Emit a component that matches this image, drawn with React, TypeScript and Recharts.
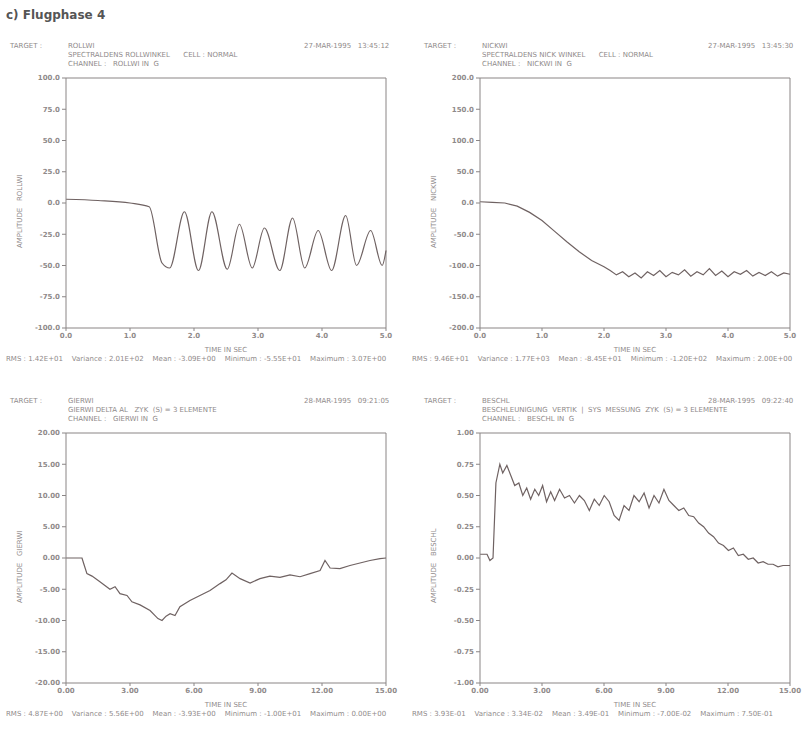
import React from 'react';
import { LineChart, Line, XAxis, YAxis, ReferenceLine } from 'recharts';

// ---------- data ----------
const p1Time = [0, 0.5, 1.0, 1.3, 1.5, 1.62, 1.85, 2.07, 2.28, 2.52, 2.71, 2.91, 3.1, 3.34, 3.54, 3.73, 3.94, 4.15, 4.37, 4.54, 4.76, 4.94, 5.0];
const p1Value = [3, 2, 0, -3, -48, -52, -7, -54, -7, -53, -17, -52, -20, -54, -12, -52, -22, -54, -10, -50, -22, -50, -38];

const p2Time = [0, 0.2, 0.4, 0.6, 0.8, 1.0, 1.2, 1.4, 1.6, 1.8, 2.0, 2.1, 2.2, 2.3, 2.4, 2.5, 2.6, 2.7, 2.8, 2.9, 3.0, 3.1, 3.2, 3.3, 3.4, 3.5, 3.6, 3.7, 3.8, 3.9, 4.0, 4.1, 4.2, 4.3, 4.4, 4.5, 4.6, 4.7, 4.8, 4.9, 5.0];
const p2Value = [2, 1, 0, -5, -15, -28, -45, -62, -78, -92, -102, -108, -115, -110, -118, -112, -120, -110, -116, -108, -118, -111, -115, -107, -117, -110, -115, -105, -116, -109, -118, -110, -114, -108, -117, -111, -116, -110, -117, -112, -114];

const p3Time = [0, 0.75, 0.84, 0.98, 1.22, 1.59, 2.06, 2.3, 2.53, 2.86, 3.09, 3.47, 3.94, 4.31, 4.5, 4.69, 4.88, 5.11, 5.34, 5.81, 6.28, 6.75, 7.22, 7.5, 7.78, 8.16, 8.63, 9.09, 9.56, 10.03, 10.5, 10.97, 11.44, 11.91, 12.14, 12.38, 12.84, 13.31, 13.78, 14.25, 14.72, 15];
const p3Value = [0, 0, -1, -2.5, -2.9, -3.8, -5.0, -4.6, -5.7, -6.0, -7.0, -7.5, -8.4, -9.7, -10.0, -9.3, -8.9, -9.2, -7.8, -6.8, -6.0, -5.2, -4.1, -3.5, -2.4, -3.3, -4.0, -3.3, -2.9, -3.1, -2.7, -3.0, -2.5, -2.0, -0.4, -1.6, -1.7, -1.2, -0.8, -0.4, -0.1, 0];

const p4Time = [0, 0.34, 0.48, 0.63, 0.77, 0.96, 1.1, 1.3, 1.49, 1.68, 1.88, 2.07, 2.26, 2.45, 2.65, 2.84, 3.03, 3.22, 3.42, 3.61, 3.85, 4.09, 4.33, 4.57, 4.81, 5.05, 5.29, 5.53, 5.77, 6.01, 6.25, 6.49, 6.73, 6.97, 7.21, 7.45, 7.7, 7.94, 8.18, 8.42, 8.66, 8.9, 9.14, 9.38, 9.62, 9.86, 10.1, 10.34, 10.58, 10.82, 11.06, 11.3, 11.54, 11.78, 12.02, 12.26, 12.5, 12.74, 12.98, 13.22, 13.46, 13.7, 13.94, 14.18, 14.42, 14.66, 15];
const p4Value = [0.03, 0.03, -0.02, 0.0, 0.6, 0.75, 0.68, 0.74, 0.66, 0.58, 0.6, 0.5, 0.56, 0.47, 0.55, 0.5, 0.58, 0.45, 0.53, 0.46, 0.55, 0.48, 0.5, 0.44, 0.5, 0.46, 0.38, 0.47, 0.42, 0.5, 0.45, 0.34, 0.3, 0.42, 0.38, 0.5, 0.45, 0.52, 0.4, 0.5, 0.44, 0.55, 0.46, 0.42, 0.38, 0.4, 0.34, 0.33, 0.28, 0.25, 0.2, 0.17, 0.12, 0.1, 0.06, 0.08, 0.02, 0.03, -0.01, 0.0, -0.04, -0.03, -0.05, -0.05, -0.07, -0.06, -0.06];

const xTicksA = [0, 1, 2, 3, 4, 5];
const xTicksB = [0, 3, 6, 9, 12, 15];
const yTicks1 = [-100, -75, -50, -25, 0, 25, 50, 75, 100];
const yTicks2 = [-200, -150, -100, -50, 0, 50, 100, 150, 200];
const yTicks3 = [-20, -15, -10, -5, 0, 5, 10, 15, 20];
const yTicks4 = [-1, -0.75, -0.5, -0.25, 0, 0.25, 0.5, 0.75, 1];

const footers = [
  'RMS : 1.42E+01    Variance : 2.01E+02    Mean : -3.09E+00    Minimum : -5.55E+01    Maximum : 3.07E+00',
  'RMS : 9.46E+01    Variance : 1.77E+03    Mean : -8.45E+01    Minimum : -1.20E+02    Maximum : 2.00E+00',
  'RMS : 4.87E+00    Variance : 5.56E+00    Mean : -3.93E+00    Minimum : -1.00E+01    Maximum : 0.00E+00',
  'RMS : 3.93E-01    Variance : 3.34E-02    Mean : 3.49E-01    Minimum : -7.00E-02    Maximum : 7.50E-01',
];

const headers = [
  { name: 'ROLLWI', desc: 'SPECTRALDENS ROLLWINKEL      CELL : NORMAL', chan: 'CHANNEL :   ROLLWI IN  G', date: '27-MAR-1995   13:45:12' },
  { name: 'NICKWI', desc: 'SPECTRALDENS NICK WINKEL      CELL : NORMAL', chan: 'CHANNEL :   NICKWI IN  G', date: '27-MAR-1995   13:45:30' },
  { name: 'GIERWI', desc: 'GIERWI DELTA AL   ZYK  (S) = 3 ELEMENTE', chan: 'CHANNEL :   GIERWI IN  G', date: '28-MAR-1995   09:21:05' },
  { name: 'BESCHL', desc: 'BESCHLEUNIGUNG  VERTIK  |  SYS  MESSUNG  ZYK  (S) = 3 ELEMENTE', chan: 'CHANNEL :   BESCHL IN  G', date: '28-MAR-1995   09:22:40' },
];

const LINE = '#6f6262';
const AXIS = '#8a8585';
const TEXT = '#8f8a8a';

function toRows(t: number[], v: number[]) {
  return t.map((x, i) => ({ t: x, v: v[i] }));
}

type PanelProps = {
  plotLeft: number; plotTop: number; plotW: number; plotH: number;
  time: number[]; value: number[]; xTicks: number[]; yTicks: number[];
  xDec: number; yDec: number; idx: number; curve: 'monotone' | 'linear'; footLeft: number;
};

function Panel(p: PanelProps) {
  const data = toRows(p.time, p.value);
  const ml = 5, yw = 50, mt = 5, mr = 16, xh = 20;
  const W = ml + yw + p.plotW + mr;
  const H = mt + p.plotH + xh;
  const xMin = p.xTicks[0], xMax = p.xTicks[p.xTicks.length - 1];
  const yMin = p.yTicks[0], yMax = p.yTicks[p.yTicks.length - 1];
  const h = headers[p.idx];
  const hx = p.plotLeft;
  const small: React.CSSProperties = { position: 'absolute', fontSize: 7, color: TEXT, whiteSpace: 'pre', fontFamily: 'DejaVu Sans, sans-serif', lineHeight: '8px' };
  return (
    <>
      <div style={{ ...small, left: p.plotLeft - 56, top: p.plotTop - 36 }}>TARGET :</div>
      <div style={{ ...small, left: hx + 2, top: p.plotTop - 36 }}>{h.name}</div>
      <div style={{ ...small, left: hx + 2, top: p.plotTop - 27 }}>{h.desc}</div>
      <div style={{ ...small, left: hx + 2, top: p.plotTop - 18 }}>{h.chan}</div>
      <div style={{ ...small, left: hx + p.plotW - 82, top: p.plotTop - 36 }}>{h.date}</div>
      <div style={{ ...small, left: p.plotLeft - 50, top: p.plotTop + p.plotH / 2 + 45, transform: 'rotate(-90deg)', transformOrigin: '0 0' }}>{'AMPLITUDE   ' + h.name}</div>
      <div style={{ ...small, left: p.plotLeft, width: p.plotW, textAlign: 'center', top: p.plotTop + p.plotH + 18 }}>TIME IN SEC</div>
      <div style={{ ...small, left: p.footLeft, top: p.plotTop + p.plotH + 27 }}>{footers[p.idx]}</div>
      <div style={{ position: 'absolute', left: p.plotLeft - ml - yw, top: p.plotTop - mt }}>
        <LineChart width={W} height={H} data={data} margin={{ top: mt, right: mr, bottom: 0, left: ml }}>
          <XAxis dataKey="t" type="number" domain={[xMin, xMax]} ticks={p.xTicks} height={xh}
            tickFormatter={(v: number) => v.toFixed(p.xDec)} stroke={AXIS} tickSize={3}
            tick={{ fontSize: 7, fill: TEXT, fontFamily: 'DejaVu Sans, sans-serif', fontWeight: 'bold' }} interval={0} />
          <YAxis type="number" domain={[yMin, yMax]} ticks={p.yTicks} width={yw}
            tickFormatter={(v: number) => v.toFixed(p.yDec)} stroke={AXIS} tickSize={4}
            tick={{ fontSize: 7, fill: TEXT, fontFamily: 'DejaVu Sans, sans-serif', fontWeight: 'bold' }} interval={0} />
          <ReferenceLine y={yMax} stroke={AXIS} />
          <ReferenceLine x={xMax} stroke={AXIS} />
          <Line dataKey="v" type={p.curve} stroke={LINE} strokeWidth={1.2} dot={false} isAnimationActive={false} />
        </LineChart>
      </div>
    </>
  );
}

export default function App() {
  return (
    <div style={{ position: 'absolute', left: 0, top: 0, width: 808, height: 729, background: '#ffffff', overflow: 'hidden' }}>
      <div style={{ position: 'absolute', left: 6, top: 8, fontSize: 12, fontWeight: 'bold', color: '#555', fontFamily: 'DejaVu Sans, sans-serif' }}>c) Flugphase 4</div>
      <Panel idx={0} footLeft={6} plotLeft={66} plotTop={78} plotW={320} plotH={250} time={p1Time} value={p1Value} xTicks={xTicksA} yTicks={yTicks1} xDec={1} yDec={1} curve="monotone" />
      <Panel idx={1} footLeft={412} plotLeft={480} plotTop={78} plotW={310} plotH={250} time={p2Time} value={p2Value} xTicks={xTicksA} yTicks={yTicks2} xDec={1} yDec={1} curve="linear" />
      <Panel idx={2} footLeft={6} plotLeft={66} plotTop={433} plotW={320} plotH={250} time={p3Time} value={p3Value} xTicks={xTicksB} yTicks={yTicks3} xDec={2} yDec={2} curve="linear" />
      <Panel idx={3} footLeft={412} plotLeft={480} plotTop={433} plotW={310} plotH={250} time={p4Time} value={p4Value} xTicks={xTicksB} yTicks={yTicks4} xDec={2} yDec={2} curve="linear" />
    </div>
  );
}
